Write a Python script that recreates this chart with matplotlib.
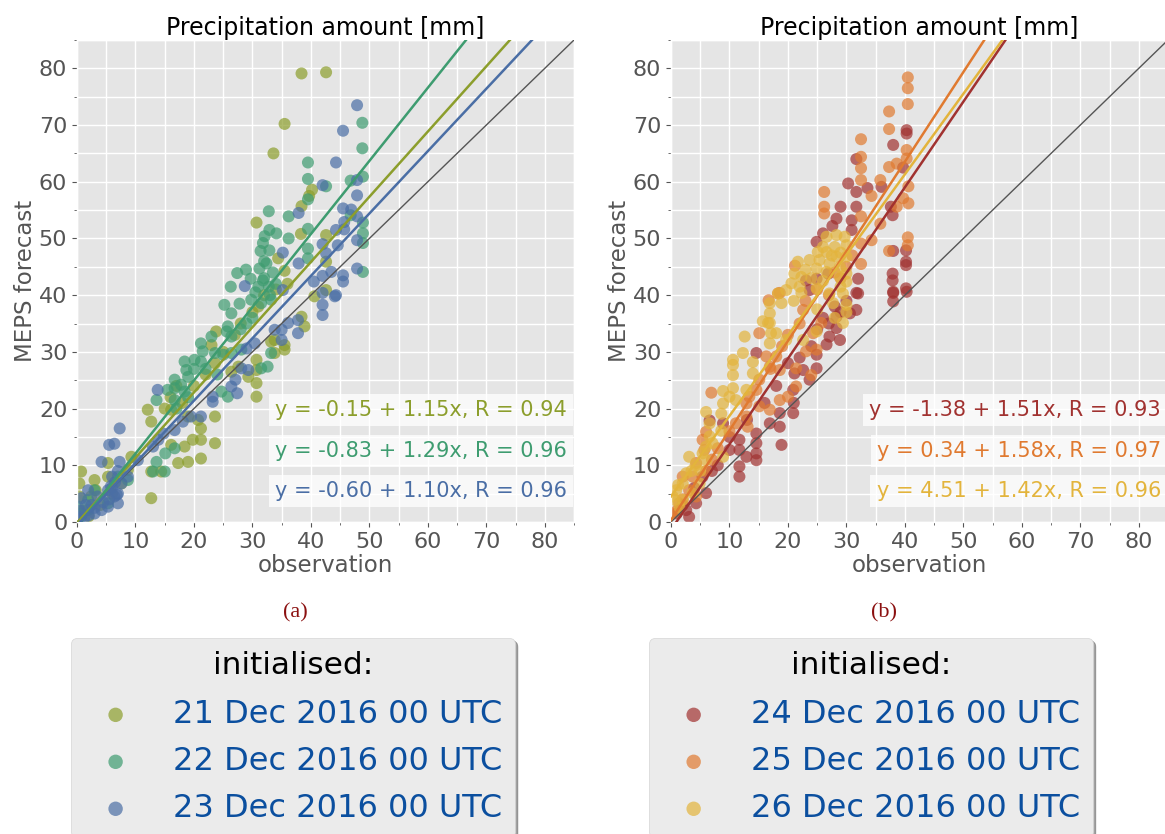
import matplotlib
matplotlib.use('Agg')
import matplotlib.pyplot as plt
from matplotlib.ticker import MultipleLocator

plt.style.use('ggplot')

# ---- data (observation, forecast) ----
# panel (a)
obs_21 = [38.4, 42.6, 35.5, 33.6, 30.7, 40.2, 39.7, 38.4, 38.3, 42.6, 42.6, 35.5, 34.4, 42.6,
          23.8, 23.0, 23.6, 26.4, 30.7, 30.7, 30.7, 35.5, 33.8, 38.4, 40.6, 38.9, 33.8, 30.7,
          23.6, 21.2, 21.2, 23.6, 21.2, 19.0, 17.3, 16.1, 18.4, 19.8, 12.7, 12.1, 16.1, 19.0,
          20.7, 12.7, 14.4, 12.7, 0.7, 0.4, 3.0, 5.3, 5.3, 9.3, 8.7, 7.6, 2.4, 0.4, 3.2,
          33.2, 35.5, 29.3, 27.6, 32.0, 34.0, 36.0, 31.0, 1.0, 2.0, 0.5, 4.0, 6.0,
          16.0, 15.0, 17.0, 18.0, 20.0, 22.0, 25.0, 27.0, 28.0, 30.0]
fc_21 = [79.1, 79.3, 70.2, 65.0, 52.8, 58.6, 57.5, 55.7, 50.8, 50.6, 45.9, 44.3, 46.5, 40.9,
         33.6, 31.2, 28.0, 26.5, 26.8, 24.5, 22.1, 30.4, 29.8, 36.2, 39.8, 34.5, 32.1, 28.6,
         18.6, 16.5, 14.5, 13.9, 11.2, 10.6, 10.4, 13.6, 13.3, 14.5, 17.7, 19.8, 19.8, 18.6,
         18.0, 8.9, 8.9, 4.2, 8.9, 6.8, 7.4, 10.4, 8.0, 11.5, 9.2, 6.8, 4.5, 4.5, 5.6,
         31.8, 31.2, 25.6, 27.4, 40.0, 41.0, 42.0, 38.0, 2.0, 1.0, 1.5, 3.0, 5.0,
         22.0, 20.0, 24.0, 21.0, 24.0, 26.0, 30.0, 33.0, 35.0, 37.0]

obs_22 = [39.5, 39.5, 39.5, 32.8, 36.2, 48.8, 48.8, 46.8, 48.9, 42.6, 46.8, 48.9, 48.9, 48.9,
          48.9, 39.5, 39.5, 39.5, 36.2, 34.1, 32.9, 32.1, 31.8, 31.4, 32.9, 27.4, 28.9, 31.2,
          32.4, 26.3, 29.7, 31.8, 32.8,
          25.2, 26.4, 27.8, 29.8, 31.5, 33.2, 25.8, 26.4, 25.6, 23.0, 21.2, 21.5, 21.2, 18.4,
          18.7, 19.0, 16.7, 16.7, 17.8, 18.4, 15.5, 13.6, 16.7, 20.1, 23.6, 25.0, 26.4, 28.1,
          31.5, 32.6, 33.2, 25.8, 24.7, 16.7, 13.6, 15.1, 13.0, 15.0, 3.0, 1.9, 7.0, 8.7, 0.7,
          0.2, 5.3, 1.9,
          30.5, 31.0, 32.0, 33.0, 34.0, 30.0, 29.0, 28.0, 33.5, 32.0, 24.0, 22.0, 20.0, 19.0, 17.0]
fc_22 = [63.4, 60.5, 56.9, 54.8, 53.9, 70.4, 65.9, 60.2, 60.9, 59.2, 54.1, 52.8, 50.9, 49.2,
         44.1, 51.7, 48.2, 46.5, 50.0, 50.9, 51.5, 50.4, 49.2, 47.8, 47.9, 43.9, 44.5, 44.7,
         45.6, 41.5, 42.9, 42.6, 41.5,
         38.3, 36.8, 38.5, 39.2, 38.6, 39.2, 34.5, 32.7, 33.6, 32.7, 31.5, 30.1, 28.3, 28.3,
         26.8, 25.6, 25.1, 23.6, 24.2, 23.0, 23.3, 21.5, 21.5, 28.6, 29.8, 29.5, 29.8, 30.4,
         27.1, 27.4, 29.8, 22.1, 23.0, 13.0, 10.6, 12.1, 8.9, 8.9, 5.6, 3.9, 8.0, 7.4, 1.5,
         2.7, 3.3, 2.1,
         40.5, 41.5, 43.0, 40.0, 42.0, 36.0, 35.0, 34.0, 44.0, 46.0, 26.0, 27.0, 27.0, 22.0, 20.0]

obs_23 = [47.9, 45.5, 44.3, 42.0, 47.9, 47.9, 45.5, 46.9, 47.9, 45.7, 44.3, 45.7, 47.9, 44.6,
          42.0, 37.9, 35.2, 37.9, 42.6, 40.5, 42.0, 43.5, 45.5, 45.5, 47.9, 28.7, 35.2, 42.0,
          44.3,
          44.1, 42.0, 42.0, 37.8, 37.8, 36.1, 35.0, 35.0, 33.8, 30.4, 29.0, 28.1, 29.3, 27.1,
          27.4, 26.4, 23.2, 23.2, 21.2, 13.8, 14.8, 13.9, 7.3, 6.4, 5.5, 4.2, 7.3, 1.9, 5.3,
          6.4, 7.0, 5.3, 4.2, 3.0, 0.7, 0.7, 0.2, 7.6, 8.7, 10.4, 13.0, 16.7, 18.1, 19.5,
          6.0, 6.5, 7.0, 5.5, 4.5, 3.0, 2.0, 1.2, 6.0, 7.0, 0.5, 1.5, 2.5, 3.5, 6.8, 5.8]
fc_23 = [73.5, 69.0, 63.4, 59.4, 60.3, 57.6, 55.3, 55.1, 53.9, 52.9, 51.5, 51.6, 49.7, 48.8,
         49.0, 54.5, 47.5, 45.6, 47.4, 42.4, 43.4, 44.1, 43.5, 42.4, 44.7, 41.6, 40.9, 40.4,
         40.0,
         39.8, 38.3, 36.5, 35.6, 33.3, 35.1, 33.9, 32.1, 33.9, 31.5, 30.6, 27.1, 26.8, 25.1,
         22.7, 23.9, 22.1, 21.2, 18.6, 23.3, 15.6, 14.5, 16.5, 13.8, 13.6, 10.6, 10.6, 5.6, 5.6,
         4.5, 3.3, 2.7, 2.1, 1.5, 4.2, 0.9, 0.4, 6.8, 8.0, 10.9, 13.3, 16.2, 17.7, 18.6,
         6.0, 7.0, 5.0, 4.0, 3.5, 2.5, 1.2, 0.6, 8.0, 9.0, 2.0, 3.0, 3.0, 4.5, 4.8, 6.3]

# panel (b)
obs_24 = [40.3, 40.3, 38.0, 31.7, 30.3, 31.7, 33.6, 36.0, 39.7, 29.0, 31.7, 27.6, 30.9, 30.9,
          28.3, 37.9, 37.6, 40.2, 38.0, 40.2, 40.2, 37.9, 37.9, 40.2, 38.0, 24.9, 26.0, 24.9,
          23.1, 23.7, 32.0, 32.0, 26.9,
          28.3, 27.1, 28.9, 28.3, 30.6, 31.7, 31.7, 38.0, 38.0, 40.3, 26.6, 24.9, 24.9, 22.6,
          21.1, 20.9, 20.9, 18.6, 18.9, 14.6, 14.6, 14.6, 11.7, 11.7, 11.7, 11.7, 10.0, 12.9,
          14.6, 8.9, 6.6, 5.4, 6.0, 4.3, 3.1, 2.6, 16.9, 14.6, 23.7, 18.6,
          27.0, 29.0, 30.0, 26.0, 22.0, 24.0, 20.0, 18.0, 16.0, 13.0, 10.0, 8.0, 7.0, 4.0,
          2.0, 1.0, 21.0, 28.0, 25.0]
fc_24 = [69.1, 68.5, 66.5, 64.0, 59.7, 58.2, 58.9, 59.1, 62.5, 55.6, 55.6, 52.2, 53.2, 51.5,
         53.5, 54.1, 55.6, 47.9, 47.8, 45.9, 45.3, 43.8, 42.6, 41.2, 40.6, 49.4, 50.9, 42.9,
         42.6, 40.9, 42.9, 40.3, 43.8,
         36.2, 32.7, 32.1, 34.2, 36.8, 37.4, 40.4, 40.4, 38.9, 40.6, 31.3, 27.1, 29.5, 26.8,
         26.2, 23.3, 19.2, 16.8, 13.6, 15.6, 12.1, 10.9, 14.5, 12.7, 9.8, 8.0, 12.7, 11.5,
         29.8, 17.4, 17.9, 8.0, 5.1, 3.3, 0.9, 2.1, 17.4, 13.9, 25.1, 19.2,
         35.0, 37.0, 39.0, 36.0, 29.0, 31.0, 28.0, 24.0, 21.0, 18.0, 15.0, 10.0, 9.0, 6.0,
         3.0, 1.5, 21.0, 38.0, 34.0]

obs_25 = [40.5, 40.5, 40.5, 37.3, 37.3, 32.5, 32.5, 32.5, 32.5, 26.2, 26.2, 26.2, 37.3, 38.6,
          40.3, 40.3, 35.8, 34.3, 40.6, 39.7, 40.6, 38.6, 35.8, 40.5, 40.5, 37.3, 32.5, 32.5,
          32.5, 34.3, 21.2, 16.7, 18.3,
          15.1, 18.6, 16.3, 18.0, 16.9, 18.6, 15.1, 14.6, 13.4, 12.9, 15.1, 16.9, 12.9, 13.1,
          6.9, 6.0, 5.4, 5.7, 4.3, 3.7, 2.0, 3.1, 4.3, 1.4, 0.3, 24.0, 21.4, 23.1, 24.9, 24.3,
          25.7, 22.6, 21.4, 20.0, 11.1, 18.6,
          27.0, 29.0, 30.0, 25.0, 22.0, 20.0, 19.0, 17.0, 10.0, 8.0, 7.0, 2.0, 1.0, 6.0, 28.0,
          31.0, 23.0]
fc_25 = [78.4, 76.5, 73.7, 72.4, 69.3, 67.5, 64.4, 62.4, 60.3, 58.2, 55.6, 54.4, 62.6, 63.2,
         65.6, 64.1, 60.3, 57.5, 59.2, 57.1, 56.2, 55.6, 52.6, 50.2, 48.8, 47.8, 53.9, 49.1,
         45.5, 49.7, 45.2, 39.1, 40.3,
         33.3, 40.4, 29.2, 29.2, 27.4, 26.8, 25.1, 23.3, 22.1, 20.9, 20.4, 19.8, 18.6, 16.8,
         22.8, 15.9, 14.5, 12.7, 10.4, 8.0, 8.0, 5.6, 4.5, 3.3, 1.5, 25.9, 27.1, 30.1, 30.4, 33.3,
         35.1, 37.4, 23.9, 22.1, 17.4, 21.5,
         40.0, 43.0, 45.0, 41.0, 35.0, 33.0, 31.0, 27.0, 16.0, 13.0, 11.0, 4.0, 2.0, 9.0, 44.0,
         47.0, 39.0]

obs_26 = [26.6, 28.3, 29.7, 30.0, 28.0, 26.0, 25.1, 26.6, 28.3, 30.0, 23.7, 25.4, 27.1, 28.9,
          24.9, 26.6, 21.7, 21.1, 22.3, 20.6, 22.0, 19.7, 24.9, 28.9, 30.0, 30.0, 29.4, 27.1,
          18.3,
          18.9, 16.9, 16.9, 15.7, 16.6, 17.1, 16.9, 12.6, 12.3, 10.6, 10.6, 10.6, 10.6, 8.9,
          8.9, 8.6, 6.0, 6.6, 10.0, 11.1, 8.6, 6.0, 5.4, 6.0, 3.1, 2.6, 2.0, 0.9, 0.6, 2.0,
          3.7, 4.9, 7.1, 6.6, 8.9, 24.9, 29.4, 30.0, 27.7, 22.3, 16.9, 14.0, 12.9, 14.0, 18.0,
          19.7, 22.6,
          0.3, 1.2, 1.5, 3.5, 4.2, 5.0, 27.5, 29.0, 24.0, 23.0, 26.0, 29.0, 30.0, 28.0, 25.0, 21.0]
fc_26 = [50.3, 50.6, 50.3, 48.8, 48.5, 48.5, 47.6, 47.6, 46.8, 46.8, 46.2, 46.2, 45.6, 45.0,
         44.7, 44.1, 45.9, 43.8, 43.2, 42.1, 41.5, 40.9, 41.2, 43.2, 43.8, 42.4, 40.3, 40.3,
         40.3,
         38.6, 38.6, 36.8, 35.4, 35.1, 33.3, 31.5, 32.7, 29.8, 28.6, 27.7, 25.9, 23.6, 23.1,
         20.9, 19.1, 19.4, 17.4, 22.1, 21.5, 16.1, 13.3, 12.1, 10.9, 11.5, 8.6, 6.8, 5.6, 3.9, 3.9,
         5.1, 6.8, 13.9, 15.1, 11.5, 33.6, 35.1, 38.3, 38.6, 40.4, 35.1, 26.2, 23.3, 28.2, 33.3,
         32.1, 32.1,
         4.5, 6.5, 2.5, 9.0, 10.0, 9.0, 47.0, 47.5, 43.0, 44.5, 42.5, 41.5, 37.0, 36.0, 37.5, 39.0]

# regression (intercept, slope, R) as printed
fit_a = [(-0.15, 1.15, 0.94), (-0.83, 1.29, 0.96), (-0.60, 1.10, 0.96)]
fit_b = [(-1.38, 1.51, 0.93), (0.34, 1.58, 0.97), (4.51, 1.42, 0.96)]

labels_a = ['21 Dec 2016 00 UTC', '22 Dec 2016 00 UTC', '23 Dec 2016 00 UTC']
labels_b = ['24 Dec 2016 00 UTC', '25 Dec 2016 00 UTC', '26 Dec 2016 00 UTC']
colors_a = ['#8c9e2c', '#3e9c70', '#4a6ea5']
colors_b = ['#a13230', '#e07a30', '#e3b43c']

W, H = 1165, 834
fig = plt.figure(figsize=(W / 100, H / 100), dpi=100)


def px(left, top, width, height):
    return [left / W, 1 - (top + height) / H, width / W, height / H]


def panel(ax, obs, fc, fits, colors, labels):
    handles = []
    for x, y, c, lab in zip(obs, fc, colors, labels):
        h = ax.scatter(x, y, s=75, color=c, alpha=0.7, edgecolors='none', label=lab, zorder=2)
        handles.append(h)
    xx = [0, 85]
    ax.plot(xx, xx, color='#555555', lw=1.0, zorder=3)
    for (a, b, r), c in zip(fits, colors):
        ax.plot(xx, [a + b * v for v in xx], color=c, lw=1.8, zorder=3)
    ys = [0.232, 0.147, 0.064]
    for (a, b, r), c, yy in zip(fits, colors, ys):
        ax.text(0.986, yy, 'y = %.2f + %.2fx, R = %.2f' % (a, b, r), transform=ax.transAxes,
                ha='right', va='center', fontsize=15, color=c, zorder=5,
                bbox=dict(boxstyle='square,pad=0.3', facecolor='white', alpha=0.75, edgecolor='none'))
    ax.set_xlim(0, 85)
    ax.set_ylim(0, 85)
    ax.xaxis.set_major_locator(MultipleLocator(10))
    ax.yaxis.set_major_locator(MultipleLocator(10))
    ax.xaxis.set_minor_locator(MultipleLocator(5))
    ax.yaxis.set_minor_locator(MultipleLocator(5))
    ax.grid(which='both', color='white', lw=1.0)
    ax.set_axisbelow(True)
    ax.tick_params(labelsize=16, colors='#555555')
    ax.tick_params(axis='both', labelcolor='#555555')
    ax.set_title('Precipitation amount [mm]', fontsize=17, color='black', pad=3)
    ax.set_xlabel('observation', fontsize=16.5, color='#555555', labelpad=2)
    ax.set_ylabel('MEPS forecast', fontsize=16.5, color='#555555', labelpad=1)
    return handles


ax1 = fig.add_axes(px(77, 40, 497, 482))
h1 = panel(ax1, [obs_21, obs_22, obs_23], [fc_21, fc_22, fc_23], fit_a, colors_a, labels_a)
ax2 = fig.add_axes(px(671, 40, 497, 482))
h2 = panel(ax2, [obs_24, obs_25, obs_26], [fc_24, fc_25, fc_26], fit_b, colors_b, labels_b)

fig.text(295 / W, 1 - 613 / H, '(a)', family='Liberation Serif', fontsize=16,
         color='#8b1010', ha='center', va='center')
fig.text(884 / W, 1 - 613 / H, '(b)', family='Liberation Serif', fontsize=16,
         color='#8b1010', ha='center', va='center')

for handles, cx in [(h1, 293), (h2, 871)]:
    leg = fig.legend(handles=handles, loc='upper center', bbox_to_anchor=(cx / W, 1 - 638 / H),
                     borderaxespad=0, fontsize=23, title='initialised:', title_fontsize=22.5,
                     scatterpoints=1, markerscale=1.2, frameon=True, fancybox=True, shadow=True,
                     facecolor='#ebebeb', edgecolor='#d5d5d5', framealpha=1, labelspacing=0.5)
    leg._legend_box.sep = 14
    for t in leg.get_texts():
        t.set_color('#0b4f9f')
    leg.get_title().set_color('black')

fig.savefig('out.png', dpi=100)
